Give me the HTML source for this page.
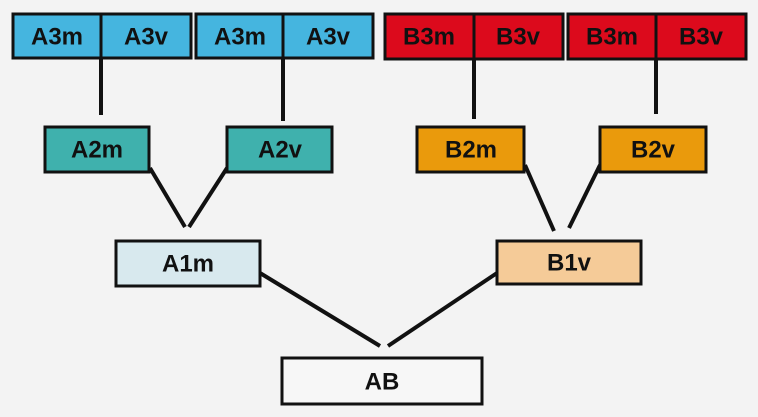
<!DOCTYPE html>
<html><head><meta charset="utf-8"><style>
html,body{margin:0;padding:0;background:#f3f3f3;}
svg{display:block}
text{font-family:"Liberation Sans",Arial,sans-serif;font-weight:bold;font-size:24px;fill:#111;text-anchor:middle;dominant-baseline:central}
</style></head><body>
<svg width="758" height="417" viewBox="0 0 758 417">
<rect width="758" height="417" fill="#f3f3f3"/>
<g stroke="#111" stroke-width="4" fill="none">
<line x1="101" y1="58" x2="101" y2="115"/>
<line x1="283" y1="58" x2="283" y2="121"/>
<line x1="474" y1="58" x2="474" y2="119"/>
<line x1="656" y1="58" x2="656" y2="114"/>
<line x1="150" y1="168" x2="185" y2="227"/>
<line x1="227" y1="168" x2="189" y2="227"/>
<line x1="525" y1="165" x2="554" y2="231"/>
<line x1="600" y1="165" x2="569" y2="228"/>
<line x1="260" y1="273" x2="380" y2="346"/>
<line x1="497" y1="273" x2="388" y2="346"/>
</g>
<g stroke="#111" stroke-width="3">
<rect x="13" y="14" width="88" height="44" fill="#45b5df"/>
<rect x="101" y="14" width="90" height="44" fill="#45b5df"/>
<rect x="196" y="14" width="87" height="44" fill="#45b5df"/>
<rect x="283" y="14" width="90" height="44" fill="#45b5df"/>
<rect x="385" y="14" width="89" height="45" fill="#dc0a1c"/>
<rect x="474" y="14" width="89" height="45" fill="#dc0a1c"/>
<rect x="568" y="14" width="88" height="45" fill="#dc0a1c"/>
<rect x="656" y="14" width="90" height="45" fill="#dc0a1c"/>
<rect x="45" y="127" width="104" height="45" fill="#3fb1ad"/>
<rect x="227" y="127" width="105" height="45" fill="#3fb1ad"/>
<rect x="417" y="127" width="107" height="45" fill="#ea9a0c"/>
<rect x="600" y="127" width="106" height="45" fill="#ea9a0c"/>
<rect x="116" y="241" width="144" height="45" fill="#d8e9ee"/>
<rect x="497" y="241" width="144" height="43" fill="#f5cb98"/>
<rect x="282" y="358" width="200" height="46" fill="#f7f7f7"/>
</g>
<text x="57" y="37">A3m</text><text x="146" y="37">A3v</text>
<text x="240" y="37">A3m</text><text x="328" y="37">A3v</text>
<text x="429" y="37">B3m</text><text x="518" y="37">B3v</text>
<text x="612" y="37">B3m</text><text x="701" y="37">B3v</text>
<text x="97" y="150">A2m</text><text x="280" y="150">A2v</text>
<text x="471" y="150">B2m</text><text x="653" y="150">B2v</text>
<text x="188" y="264">A1m</text><text x="569" y="263">B1v</text>
<text x="382" y="382">AB</text>
</svg>
</body></html>
